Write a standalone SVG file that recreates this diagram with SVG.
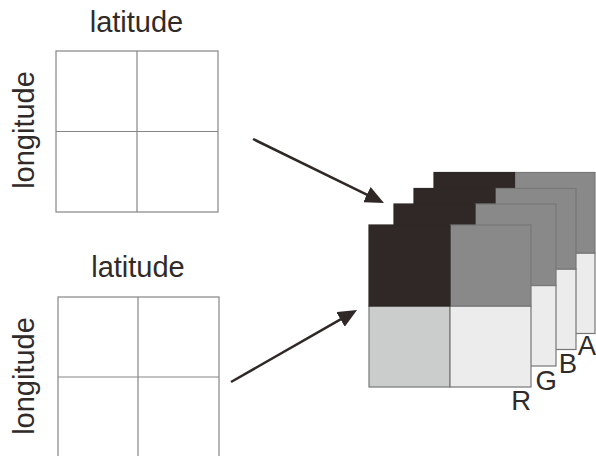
<svg xmlns="http://www.w3.org/2000/svg" width="596" height="456" viewBox="0 0 596 456">
<style>
.lbl{font-family:"Liberation Sans",Arial,sans-serif;font-size:29px;fill:#302b29}
.ch{font-family:"Liberation Sans",Arial,sans-serif;font-size:27.5px;fill:#302b29;text-anchor:end}
.grid{fill:#fff;stroke:#858585;stroke-width:1.2}
.gl{stroke:#858585;stroke-width:1.2}
.q{stroke:#777;stroke-width:1.2}
.d{fill:#2f2826;stroke:#2f2826}.m{fill:#898989}.l{fill:#cbcdcc}.v{fill:#ececec}
.arr{stroke:#2f2826;stroke-width:2.5;fill:none}
</style>
<defs>
<marker id="ah" markerUnits="userSpaceOnUse" markerWidth="19" markerHeight="17" viewBox="0 0 19 17" refX="1" refY="8.5" orient="auto">
<path d="M0,0 L19,8.5 L0,17 z" fill="#2f2826"/>
</marker>
</defs>
<g id="grid-top">
<rect class="grid" x="56" y="51" width="162" height="161"/>
<line class="gl" x1="137" y1="51" x2="137" y2="212"/>
<line class="gl" x1="56" y1="131.5" x2="218" y2="131.5"/>
<text class="lbl" x="136.5" y="32" text-anchor="middle">latitude</text>
<text class="lbl" transform="translate(33.5,130) rotate(-90)" text-anchor="middle">longitude</text>
</g>
<g id="grid-bottom">
<rect class="grid" x="58" y="297" width="161" height="161"/>
<line class="gl" x1="138" y1="297" x2="138" y2="458"/>
<line class="gl" x1="58" y1="377" x2="219" y2="377"/>
<text class="lbl" x="138" y="276.5" text-anchor="middle">latitude</text>
<text class="lbl" transform="translate(34,376) rotate(-90)" text-anchor="middle">longitude</text>
</g>
<g id="layer-A">
<rect class="q l" x="434" y="253" width="80.5" height="80.5"/>
<rect class="q v" x="514.5" y="253" width="80.5" height="80.5"/>
<rect class="q m" x="514.5" y="172.5" width="80.5" height="80.5"/>
<rect class="q d" x="434" y="172.5" width="80.5" height="80.5"/>
<text class="ch" x="596" y="355">A</text>
</g>
<g id="layer-B">
<rect class="q l" x="414" y="269" width="81" height="80.5"/>
<rect class="q v" x="495" y="269" width="81" height="80.5"/>
<rect class="q m" x="495" y="188.5" width="81" height="80.5"/>
<rect class="q d" x="414" y="188.5" width="81" height="80.5"/>
<text class="ch" x="577" y="372.5">B</text>
</g>
<g id="layer-G">
<rect class="q l" x="394" y="285.5" width="81" height="80.5"/>
<rect class="q v" x="475" y="285.5" width="81" height="80.5"/>
<rect class="q m" x="475" y="204" width="81" height="81.5"/>
<rect class="q d" x="394" y="204" width="81" height="81.5"/>
<text class="ch" x="557" y="390">G</text>
</g>
<g id="layer-R">
<rect class="q l" x="369" y="306" width="81" height="81"/>
<rect class="q v" x="450" y="306" width="81" height="81"/>
<rect class="q m" x="450" y="225" width="81" height="81"/>
<rect class="q d" x="369" y="225" width="81" height="81"/>
<text class="ch" x="531" y="410">R</text>
</g>
<g id="connectors">
<line class="arr" x1="253" y1="139" x2="367.8" y2="195.1" marker-end="url(#ah)"/>
<line class="arr" x1="231" y1="382" x2="341.4" y2="318.9" marker-end="url(#ah)"/>
</g>
</svg>
